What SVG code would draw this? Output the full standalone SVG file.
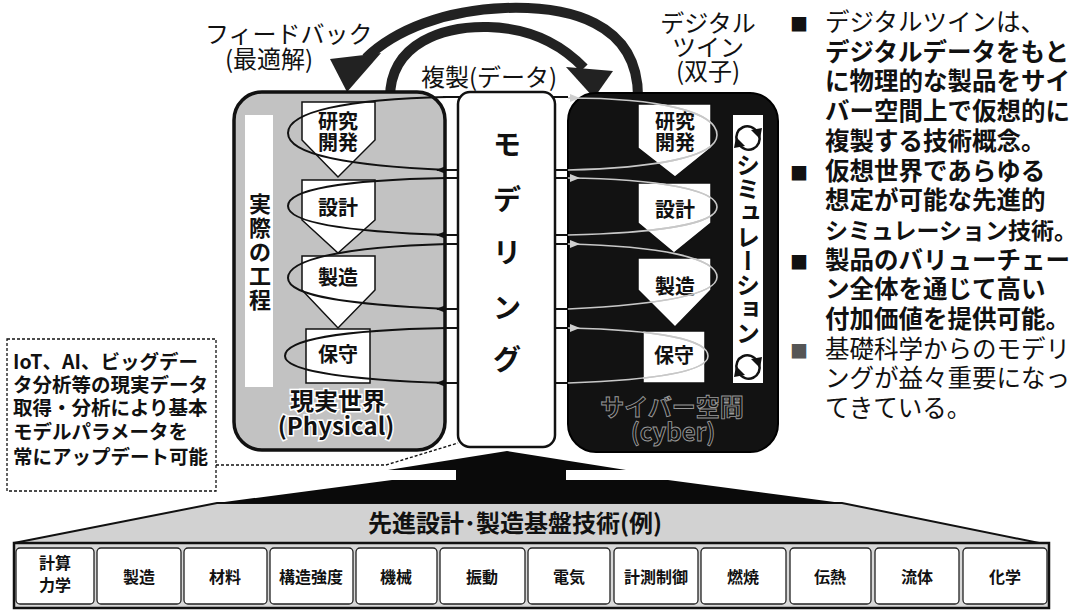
<svg xmlns="http://www.w3.org/2000/svg" width="1086" height="612" viewBox="0 0 1086 612">
<style>
text{font-family:"Noto Sans CJK JP","Noto Sans",sans-serif;fill:#111}
.b{font-weight:bold}
.mid{text-anchor:middle}
.proc{fill:#fff;stroke:#111;stroke-width:1.5}
.pt{font-size:20px;font-weight:bold;text-anchor:middle}
.loop{fill:none;stroke:#111;stroke-width:2}
.cloop{fill:none;stroke:#c8c8c8;stroke-width:1.6}
.arc{fill:none;stroke:#222;stroke-width:10}
.cell{fill:#fff;stroke:#222;stroke-width:1.3}
.ct{font-size:16px;font-weight:bold;text-anchor:middle}
.rt{font-size:24.5px}
.nt{font-size:19.5px;font-weight:bold}
.lbl{font-size:24px}
</style>
<defs>
<marker id="ah" markerWidth="10" markerHeight="8" refX="9" refY="4" orient="auto" markerUnits="userSpaceOnUse"><path d="M0,0 L10,4 L0,8 Z" fill="#111"/></marker>
<clipPath id="cclip">
<polygon points="638,104 711,104 711,148 675,177 638,148"/>
<polygon points="638,183 711,183 711,223 674,253 638,223"/>
<polygon points="638,258 711,258 711,290 675,327 638,290"/>
<rect x="643" y="331" width="62" height="52"/>
</clipPath>
</defs>
<rect width="1086" height="612" fill="#fff"/>

<!-- big curved arrows -->
<g id="arrows-top">
<path class="arc" d="M638,100 C640,20 565,6 505,8 C445,10 395,30 366,58"/>
<polygon points="330,59 381,53 347,92" fill="#222"/>
<path class="arc" d="M390,98 C390,42 445,26 488,27 C530,28 562,45 584,68"/>
<polygon points="566,67 613,71 594,98" fill="#222"/>
</g>
<text class="lbl"><tspan x="205" y="43">フィードバック</tspan><tspan x="225" y="68">(最適解)</tspan></text>
<text class="lbl" x="421" y="86">複製(データ)</text>
<text class="lbl mid"><tspan x="708" y="32">デジタル</tspan><tspan x="708" y="56">ツイン</tspan><tspan x="708" y="80">(双子)</tspan></text>

<!-- physical world -->
<g id="physical">
<rect x="234" y="92" width="211" height="358" rx="28" fill="#c2c2c2" stroke="#111" stroke-width="3.5"/>
<rect x="245" y="115" width="28" height="272" fill="#fff"/>
<text class="b" font-size="22" text-anchor="middle"><tspan x="260" y="212">実</tspan><tspan x="260" y="236">際</tspan><tspan x="260" y="260">の</tspan><tspan x="260" y="284">工</tspan><tspan x="260" y="308">程</tspan></text>
<text class="b mid" font-size="24" stroke="#fff" stroke-width="3" paint-order="stroke"><tspan x="338" y="410">現実世界</tspan><tspan x="336" y="435">(Physical)</tspan></text>
</g>

<!-- cyber world -->
<g id="cyber">
<rect x="568" y="93" width="210" height="359" rx="28" fill="#121212" stroke="#000" stroke-width="2"/>
<text class="b mid" font-size="24" fill="#161616" stroke="#9a9a9a" stroke-width="0.9"><tspan x="672" y="416">サイバー空間</tspan><tspan x="673" y="441">(cyber)</tspan></text>
</g>

<g id="simulation">
<rect x="733" y="115" width="30" height="268" fill="#fff"/>
<text class="b" x="748" y="153" font-size="24" writing-mode="vertical-rl" style="writing-mode:vertical-rl">シミュレーション</text>
<g fill="none" stroke="#111" stroke-width="2.5">
<path d="M737,141 A11,11 0 0 1 757,132"/><path d="M759,135 A11,11 0 0 1 739,144"/>
<path d="M737,370 A11,11 0 0 1 757,361"/><path d="M759,364 A11,11 0 0 1 739,373"/>
</g>
<g fill="#111">
<polygon points="751,130 762,128 760,139"/><polygon points="745,146 734,148 736,137"/>
<polygon points="751,359 762,357 760,368"/><polygon points="745,375 734,377 736,366"/>
</g>
</g>

<!-- physical process nodes -->
<g id="p-rd"><polygon class="proc" points="302,102 375,102 375,140 338,177 302,140"/><text class="pt"><tspan x="338" y="129">研究</tspan><tspan x="338" y="150">開発</tspan></text></g>
<g id="p-design"><polygon class="proc" points="302,180 375,180 375,220 338,253 302,220"/><text class="pt" x="338" y="215">設計</text></g>
<g id="p-mfg"><polygon class="proc" points="302,256 375,256 375,290 338,328 302,290"/><text class="pt" x="338" y="285">製造</text></g>
<g id="p-maint"><rect class="proc" x="306" y="329" width="64" height="54"/><text class="pt" x="338" y="362">保守</text></g>

<!-- cyber process nodes -->
<g id="c-rd"><polygon class="proc" points="638,104 711,104 711,148 675,177 638,148"/><text class="pt"><tspan x="675" y="129">研究</tspan><tspan x="675" y="150">開発</tspan></text></g>
<g id="c-design"><polygon class="proc" points="638,183 711,183 711,223 674,253 638,223"/><text class="pt" x="675" y="217">設計</text></g>
<g id="c-mfg"><polygon class="proc" points="638,258 711,258 711,290 675,327 638,290"/><text class="pt" x="675" y="294">製造</text></g>
<g id="c-maint"><rect class="proc" x="643" y="331" width="62" height="52"/><text class="pt" x="674" y="363">保守</text></g>

<!-- connectors -->
<g id="connectors">
<path class="loop" d="M447,97 C345,99 288,112 288,133 C288,156 355,166 447,170"/>
<path class="loop" d="M447,178 C340,180 288,190 288,206 C288,224 355,232 447,235"/>
<path class="loop" d="M447,244 C340,247 288,260 288,278 C288,297 355,305 447,309"/>
<path class="loop" d="M447,328 C340,330 285,340 285,356 C285,372 355,380 447,383"/>
<g stroke="#111" stroke-width="1.8" fill="none">
<path d="M443,97 H568"/><path d="M443,178 H568"/><path d="M443,244 H568"/><path d="M443,328 H568"/>
<path d="M568,170 H437" marker-end="url(#ah)"/><path d="M568,235 H437" marker-end="url(#ah)"/><path d="M568,309 H437" marker-end="url(#ah)"/><path d="M568,383 H437" marker-end="url(#ah)"/>
</g>
<g id="cyber-loops">
<path id="cl1" class="cloop" d="M568,98 C660,98 717,112 717,135 C717,158 650,168 568,170"/>
<path id="cl2" class="cloop" d="M568,178 C660,179 717,190 717,207 C717,225 650,233 568,235"/>
<path id="cl3" class="cloop" d="M568,244 C660,246 717,258 717,277 C717,296 650,305 568,309"/>
<path id="cl4" class="cloop" d="M568,328 C660,330 708,340 708,356 C708,372 650,380 568,383"/>
</g>
<g clip-path="url(#cclip)">
<use href="#cl1" style="stroke:#111"/><use href="#cl2" style="stroke:#111"/><use href="#cl3" style="stroke:#111"/><use href="#cl4" style="stroke:#111"/>
</g>
<g fill="#cfcfcf">
<polygon points="570,94 580,98 570,102"/><polygon points="570,174 580,178 570,182"/><polygon points="570,240 580,244 570,248"/><polygon points="570,324 580,328 570,332"/>
</g>
<path d="M216,465 H386 L458,443" fill="none" stroke="#111" stroke-width="1.4" stroke-dasharray="3,2"/>
</g>

<!-- modeling -->
<g id="modeling">
<rect x="458" y="92" width="97" height="355" rx="12" fill="#fff" stroke="#111" stroke-width="2.5"/>
<text class="b" font-size="28" text-anchor="middle"><tspan x="507" y="155">モ</tspan><tspan x="507" y="210">デ</tspan><tspan x="507" y="263">リ</tspan><tspan x="507" y="318">ン</tspan><tspan x="507" y="370">グ</tspan></text>
</g>

<!-- note -->
<g id="note">
<rect x="7" y="339" width="209" height="152" fill="#fff" stroke="#111" stroke-width="1.3" stroke-dasharray="3,2"/>
<text class="nt"><tspan x="13" y="369">IoT、AI、ビッグデー</tspan><tspan x="13" y="392">タ分析等の現実データ</tspan><tspan x="13" y="415">取得・分析により基本</tspan><tspan x="13" y="439">モデルパラメータを</tspan><tspan x="13" y="464">常にアップデート可能</tspan></text>
</g>

<!-- pedestal -->
<g id="foundation">
<polygon points="14,543 217,503 842,503 1049,545" fill="#d2d2d2" stroke="#111" stroke-width="2"/>
<polygon points="217,503 392,480 456,480 456,470 388,470 507,451 626,470 566,470 566,480 668,480 842,503" fill="#0a0a0a"/>
<text class="b mid" x="515" y="532" font-size="24">先進設計･製造基盤技術(例)</text>
<rect x="14" y="543" width="1035" height="65" fill="#d8d8d8" stroke="#111" stroke-width="2.5"/>
<g id="cells">
<rect class="cell" x="16" y="548" width="78" height="56" rx="4"/><text class="ct"><tspan x="55" y="569">計算</tspan><tspan x="55" y="591">力学</tspan></text>
<rect class="cell" x="97" y="548" width="84" height="56" rx="4"/><text class="ct" x="139" y="583">製造</text>
<rect class="cell" x="184" y="548" width="83" height="56" rx="4"/><text class="ct" x="225" y="583">材料</text>
<rect class="cell" x="270" y="548" width="83" height="56" rx="4"/><text class="ct" x="311" y="583">構造強度</text>
<rect class="cell" x="356" y="548" width="81" height="56" rx="4"/><text class="ct" x="396" y="583">機械</text>
<rect class="cell" x="440" y="548" width="85" height="56" rx="4"/><text class="ct" x="482" y="583">振動</text>
<rect class="cell" x="528" y="548" width="82" height="56" rx="4"/><text class="ct" x="569" y="583">電気</text>
<rect class="cell" x="614" y="548" width="84" height="56" rx="4"/><text class="ct" x="656" y="583">計測制御</text>
<rect class="cell" x="701" y="548" width="85" height="56" rx="4"/><text class="ct" x="743" y="583">燃焼</text>
<rect class="cell" x="790" y="548" width="81" height="56" rx="4"/><text class="ct" x="830" y="583">伝熱</text>
<rect class="cell" x="875" y="548" width="84" height="56" rx="4"/><text class="ct" x="917" y="583">流体</text>
<rect class="cell" x="963" y="548" width="84" height="56" rx="4"/><text class="ct" x="1005" y="583">化学</text>
</g>
</g>

<!-- right bullets -->
<g id="bullets" class="rt">
<text font-size="18"><tspan x="790" y="31">■</tspan><tspan x="790" y="180">■</tspan><tspan x="790" y="269">■</tspan><tspan x="790" y="358" fill="#555">■</tspan></text>
<text><tspan x="825" y="31">デジタルツインは、</tspan><tspan class="b" x="825" y="61">デジタルデータをもと</tspan><tspan class="b" x="825" y="90">に物理的な製品をサイ</tspan><tspan class="b" x="825" y="120">バー空間上で仮想的に</tspan><tspan class="b" x="825" y="150">複製する技術概念。</tspan></text>
<text class="b"><tspan x="825" y="180">仮想世界であらゆる</tspan><tspan x="825" y="209">想定が可能な先進的</tspan><tspan x="825" y="239" font-size="23">シミュレーション技術。</tspan></text>
<text class="b"><tspan x="825" y="269">製品のバリューチェー</tspan><tspan x="825" y="298">ン全体を通じて高い</tspan><tspan x="825" y="328">付加価値を提供可能。</tspan></text>
<text><tspan x="825" y="358">基礎科学からのモデリ</tspan><tspan x="825" y="387">ングが益々重要になっ</tspan><tspan x="825" y="417">てきている。</tspan></text>
</g>
</svg>
